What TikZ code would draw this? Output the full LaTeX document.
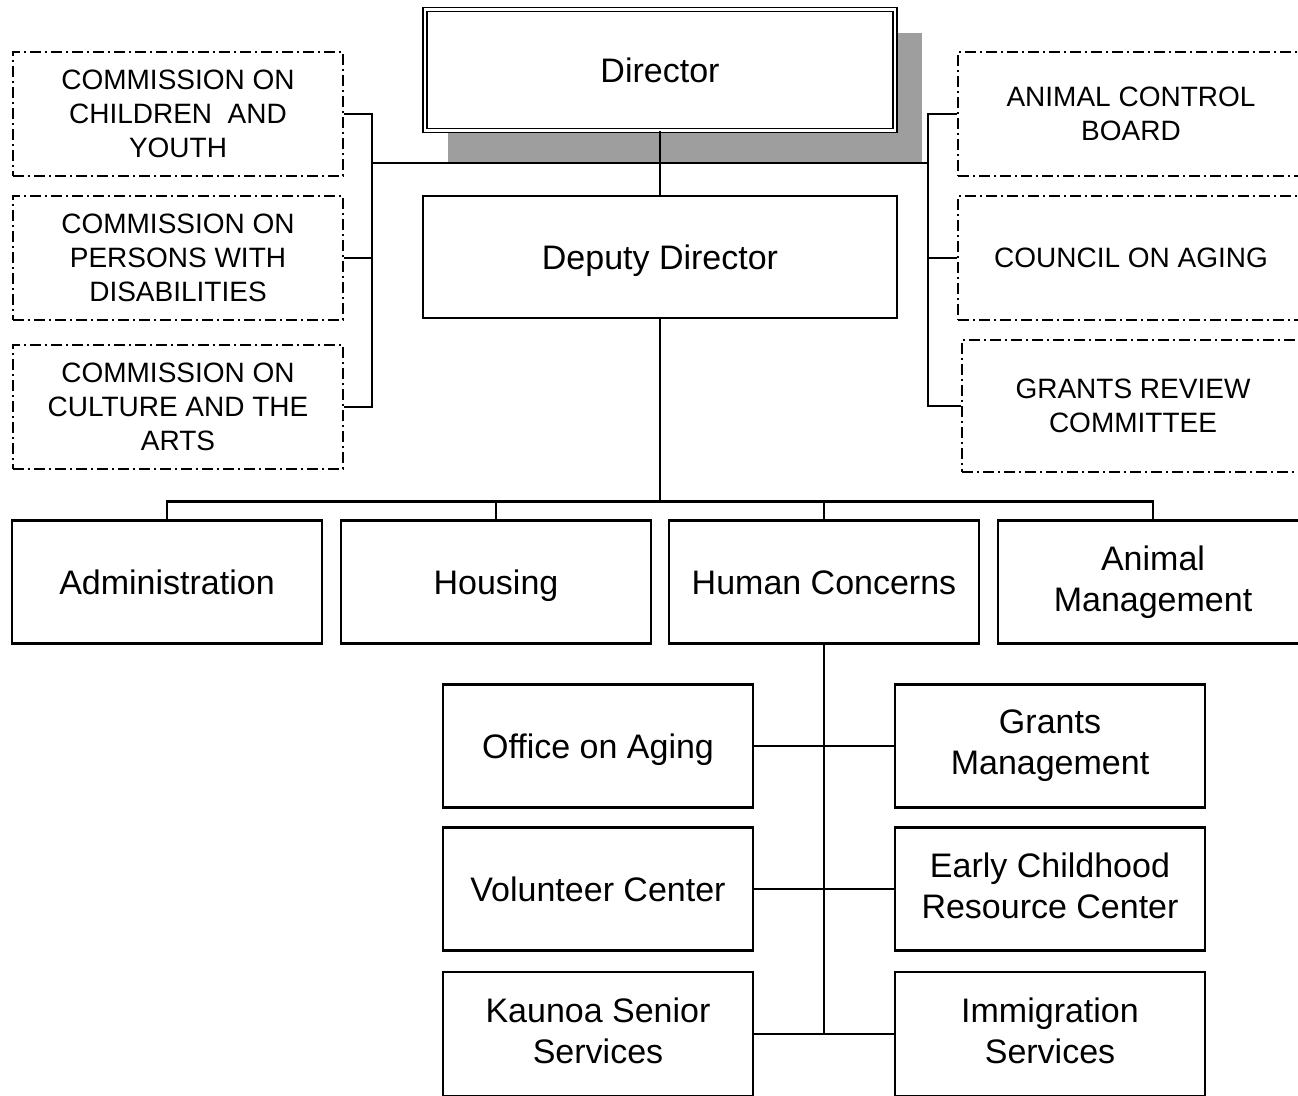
\documentclass[tikz,border=0pt]{standalone}
\usepackage{fontspec}
\setmainfont{Liberation Sans}
\newcommand\bigtxt{\fontsize{34}{41}\selectfont}
\newcommand\captxt{\fontsize{28}{34}\selectfont}
\newcommand\boxstrut{\rule[-7.2pt]{0pt}{38.8pt}}
\tikzset{
  wire/.style={line width=2.2pt},
  unit/.style={draw, fill=white, line width=2.2pt, minimum width=310pt, minimum height=123pt,
    inner sep=0pt, align=center, font=\bigtxt,
    execute at begin node=\boxstrut, execute at end node=\boxstrut},
  board/.style={draw, line width=2.2pt, dash pattern=on 11pt off 4pt on 2pt off 4pt,
    minimum width=330pt, minimum height=124pt, inner sep=0pt, align=center, font=\captxt}
}
\begin{document}
\begin{tikzpicture}[x=1pt,y=-1pt]
\useasboundingbox (0,0) rectangle (1298,1095);
\fill[black!38] (448,33) rectangle (922,163);
\node[unit, minimum width=470pt, minimum height=121pt, line width=1.6pt,
  double, double distance=2.5pt] (dir) at (660,70) {Director};
\node[unit, minimum width=474pt, minimum height=122pt] (dep) at (660,257) {Deputy Director};

\node[board] (cc) at (178,114) {COMMISSION ON\\CHILDREN\ \ AND\\YOUTH};
\node[board] (cp) at (178,258) {COMMISSION ON\\PERSONS WITH\\DISABILITIES};
\node[board] (ca) at (178,407) {COMMISSION ON\\CULTURE AND THE\\ARTS};
\node[board, minimum width=346pt] (acb) at (1131,114) {ANIMAL CONTROL\\BOARD};
\node[board, minimum width=346pt] (coa) at (1131,258) {COUNCIL ON AGING};
\node[board, minimum width=342pt, minimum height=132pt] (grc) at (1133,406) {GRANTS REVIEW\\COMMITTEE};

\node[unit] (adm) at (167,582) {Administration};
\node[unit] (hou) at (496,582) {Housing};
\node[unit] (hum) at (824,582) {Human Concerns};
\node[unit] (anm) at (1153,582) {Animal\\Management};

\node[unit] (oa) at (598,746) {Office on Aging};
\node[unit] (gm) at (1050,746) {Grants\\Management};
\node[unit] (vc) at (598,889) {Volunteer Center};
\node[unit] (ec) at (1050,889) {Early Childhood\\Resource Center};
\node[unit, minimum height=124pt] (ks) at (598,1034) {Kaunoa Senior\\Services};
\node[unit, minimum height=124pt] (is) at (1050,1034) {Immigration\\Services};

\coordinate (lb) at (372,163);
\coordinate (rb) at (928,163);
\draw[wire] (dir.south) -- (dep.north);
\draw[wire] (lb) -- (rb);
\draw[wire] (cc.east) -| (lb) |- (ca.east);
\draw[wire] (cp.east) -- (cp.east -| lb);
\draw[wire] (acb.west) -| (rb) |- (grc.west);
\draw[wire] (coa.west) -- (coa.west -| rb);

\draw[wire] (dep.south) -- (dep.south |- 0,503);
\draw[wire] (adm.north) -- ++(0,-18) -| (anm.north);
\draw[wire] (hou.north) -- ++(0,-18);
\draw[wire] (hum.north) -- ++(0,-18);

\draw[wire] (hum.south) -- (hum.south |- ks.east);
\draw[wire] (oa.east) -- (gm.west);
\draw[wire] (vc.east) -- (ec.west);
\draw[wire] (ks.east) -- (is.west);
\end{tikzpicture}
\end{document}
